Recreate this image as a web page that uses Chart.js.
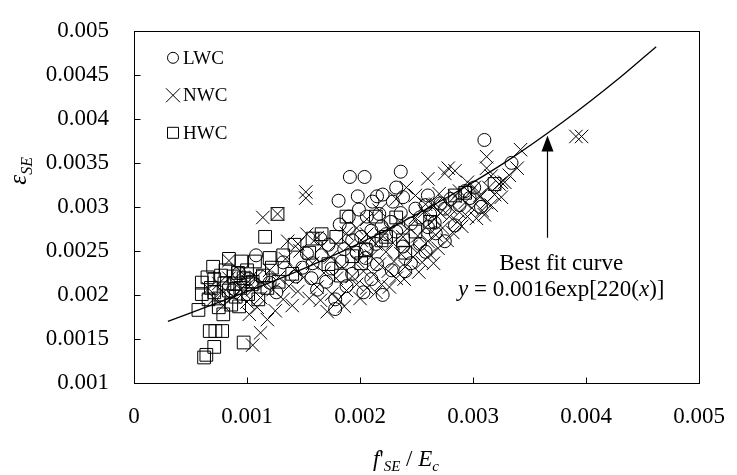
<!DOCTYPE html>
<html>
<head>
<meta charset="utf-8">
<title>Strain vs stress ratio</title>
<script src="https://cdn.jsdelivr.net/npm/chart.js@4.4.0/dist/chart.umd.min.js"></script>
<style>
  html, body { margin: 0; padding: 0; background: #fff; }
  #chart { display: block; }
</style>
</head>
<body>
<canvas id="chart" width="737" height="475"></canvas>
<script>
// Series names (legend order)
const seriesNames = ['LWC', 'NWC', 'HWC'];

// Tick labels
const xTicks = [0, 0.001, 0.002, 0.003, 0.004, 0.005];
const yTicks = [0.001, 0.0015, 0.002, 0.0025, 0.003, 0.0035, 0.004, 0.0045, 0.005];

// LWC points [f'SE/Ec, eSE]
const lwcData = [
  [0.00191, 0.00334], [0.00204, 0.00334], [0.00236, 0.00340], [0.00232, 0.00322], [0.00181, 0.00307],
  [0.00198, 0.00312], [0.00215, 0.00312], [0.00211, 0.00306], [0.00220, 0.00314], [0.00229, 0.00306],
  [0.00238, 0.00311], [0.00199, 0.00297], [0.00190, 0.00289], [0.00206, 0.00289], [0.00217, 0.00292],
  [0.00182, 0.00280], [0.00190, 0.00275], [0.00165, 0.00264], [0.00153, 0.00247], [0.00178, 0.00195],
  [0.00178, 0.00184], [0.00203, 0.00203], [0.00220, 0.00200], [0.00188, 0.00210], [0.00240, 0.00227],
  [0.00238, 0.00255], [0.00158, 0.00236], [0.00162, 0.00206], [0.00310, 0.00376], [0.00334, 0.00350],
  [0.00260, 0.00313], [0.00307, 0.00300], [0.00275, 0.00261], [0.00260, 0.00277], [0.00253, 0.00258],
  [0.00266, 0.00282], [0.00093, 0.00225], [0.00101, 0.00218], [0.00088, 0.00207], [0.00112, 0.00221],
  [0.00120, 0.00214], [0.00132, 0.00237], [0.00108, 0.00245], [0.00126, 0.00203], [0.00143, 0.00221],
  [0.00149, 0.00231], [0.00166, 0.00245], [0.00172, 0.00257], [0.00175, 0.00230], [0.00184, 0.00238],
  [0.00193, 0.00262], [0.00197, 0.00248], [0.00201, 0.00266], [0.00206, 0.00252], [0.00210, 0.00273],
  [0.00214, 0.00258], [0.00219, 0.00278], [0.00223, 0.00269], [0.00227, 0.00283], [0.00232, 0.00272],
  [0.00236, 0.00293], [0.00245, 0.00281], [0.00249, 0.00298], [0.00253, 0.00288], [0.00258, 0.00302],
  [0.00262, 0.00292], [0.00271, 0.00304], [0.00275, 0.00298], [0.00280, 0.00309], [0.00288, 0.00302],
  [0.00293, 0.00318], [0.00297, 0.00310], [0.00301, 0.00322], [0.00245, 0.00236], [0.00228, 0.00228],
  [0.00210, 0.00218], [0.00193, 0.00224], [0.00258, 0.00249], [0.00267, 0.00270], [0.00284, 0.00279],
  [0.00170, 0.00215], [0.00157, 0.00219], [0.00186, 0.00252], [0.00205, 0.00242], [0.00215, 0.00235]
];

// NWC points
const nwcData = [
  [0.00066, 0.00207], [0.00071, 0.00196], [0.00075, 0.00213], [0.00079, 0.00188], [0.00079, 0.00203],
  [0.00084, 0.00239], [0.00084, 0.00219], [0.00088, 0.00198], [0.00092, 0.00212], [0.00095, 0.00226],
  [0.00097, 0.00203], [0.00100, 0.00192], [0.00101, 0.00215], [0.00105, 0.00143], [0.00105, 0.00206],
  [0.00108, 0.00220], [0.00112, 0.00157], [0.00112, 0.00197], [0.00114, 0.00288], [0.00115, 0.00212],
  [0.00118, 0.00172], [0.00120, 0.00228], [0.00123, 0.00206], [0.00125, 0.00182], [0.00127, 0.00292],
  [0.00128, 0.00220], [0.00132, 0.00195], [0.00134, 0.00241], [0.00136, 0.00261], [0.00137, 0.00210],
  [0.00140, 0.00188], [0.00142, 0.00229], [0.00145, 0.00204], [0.00147, 0.00250], [0.00150, 0.00220],
  [0.00152, 0.00310], [0.00152, 0.00317], [0.00153, 0.00269], [0.00155, 0.00196], [0.00158, 0.00236],
  [0.00162, 0.00209], [0.00165, 0.00194], [0.00166, 0.00255], [0.00168, 0.00225], [0.00171, 0.00181],
  [0.00174, 0.00243], [0.00175, 0.00201], [0.00179, 0.00219], [0.00181, 0.00195], [0.00184, 0.00232],
  [0.00188, 0.00205], [0.00190, 0.00256], [0.00193, 0.00221], [0.00197, 0.00212], [0.00198, 0.00238],
  [0.00201, 0.00262], [0.00203, 0.00227], [0.00206, 0.00269], [0.00206, 0.00208], [0.00210, 0.00244],
  [0.00212, 0.00223], [0.00214, 0.00258], [0.00217, 0.00235], [0.00219, 0.00212], [0.00220, 0.00267],
  [0.00223, 0.00249], [0.00225, 0.00227], [0.00227, 0.00276], [0.00229, 0.00259], [0.00230, 0.00238],
  [0.00232, 0.00219], [0.00235, 0.00283], [0.00236, 0.00247], [0.00238, 0.00266], [0.00240, 0.00232],
  [0.00243, 0.00277], [0.00245, 0.00255], [0.00247, 0.00243], [0.00249, 0.00288], [0.00251, 0.00267],
  [0.00253, 0.00251], [0.00255, 0.00237], [0.00257, 0.00295], [0.00258, 0.00277], [0.00260, 0.00261],
  [0.00262, 0.00246], [0.00264, 0.00302], [0.00266, 0.00286], [0.00267, 0.00268], [0.00269, 0.00253],
  [0.00271, 0.00293], [0.00273, 0.00276], [0.00275, 0.00306], [0.00277, 0.00262], [0.00279, 0.00289],
  [0.00280, 0.00299], [0.00282, 0.00271], [0.00284, 0.00312], [0.00286, 0.00283], [0.00288, 0.00294],
  [0.00290, 0.00278], [0.00293, 0.00305], [0.00295, 0.00289], [0.00297, 0.00316], [0.00299, 0.00299],
  [0.00301, 0.00322], [0.00303, 0.00287], [0.00306, 0.00311], [0.00308, 0.00296], [0.00310, 0.00291],
  [0.00312, 0.00305], [0.00314, 0.00322], [0.00316, 0.00302], [0.00319, 0.00314], [0.00323, 0.00326],
  [0.00325, 0.00311], [0.00328, 0.00328], [0.00332, 0.00336], [0.00260, 0.00332], [0.00278, 0.00344],
  [0.00284, 0.00341], [0.00275, 0.00338], [0.00295, 0.00328], [0.00306, 0.00313], [0.00312, 0.00357],
  [0.00312, 0.00344], [0.00316, 0.00335], [0.00325, 0.00328], [0.00339, 0.00344], [0.00342, 0.00365],
  [0.00391, 0.00380], [0.00396, 0.00380], [0.00270, 0.00315], [0.00288, 0.00318], [0.00267, 0.00303],
  [0.00258, 0.00303], [0.00241, 0.00322], [0.00232, 0.00309], [0.00249, 0.00313], [0.00206, 0.00286],
  [0.00197, 0.00276], [0.00188, 0.00270], [0.00179, 0.00258], [0.00162, 0.00265], [0.00145, 0.00258],
  [0.00217, 0.00296], [0.00102, 0.00178], [0.00109, 0.00186], [0.00186, 0.00187], [0.00200, 0.00196],
  [0.00214, 0.00203], [0.00226, 0.00209], [0.00239, 0.00218], [0.00252, 0.00226], [0.00265, 0.00236]
];

// HWC points
const hwcData = [
  [0.00057, 0.00183], [0.00060, 0.00201], [0.00062, 0.00129], [0.00064, 0.00132], [0.00071, 0.00141],
  [0.00067, 0.00159], [0.00072, 0.00159], [0.00078, 0.00159], [0.00097, 0.00146], [0.00065, 0.00220],
  [0.00060, 0.00214], [0.00066, 0.00195], [0.00068, 0.00208], [0.00071, 0.00203], [0.00071, 0.00218],
  [0.00070, 0.00232], [0.00075, 0.00196], [0.00075, 0.00186], [0.00077, 0.00222], [0.00079, 0.00178],
  [0.00080, 0.00213], [0.00081, 0.00228], [0.00084, 0.00241], [0.00084, 0.00205], [0.00086, 0.00189],
  [0.00088, 0.00221], [0.00089, 0.00213], [0.00090, 0.00198], [0.00092, 0.00225], [0.00093, 0.00187],
  [0.00094, 0.00208], [0.00095, 0.00238], [0.00097, 0.00219], [0.00100, 0.00228], [0.00101, 0.00201],
  [0.00104, 0.00212], [0.00105, 0.00215], [0.00107, 0.00238], [0.00110, 0.00195], [0.00114, 0.00222],
  [0.00116, 0.00266], [0.00118, 0.00208], [0.00120, 0.00242], [0.00122, 0.00231], [0.00127, 0.00292],
  [0.00128, 0.00215], [0.00132, 0.00245], [0.00140, 0.00224], [0.00142, 0.00257], [0.00155, 0.00248],
  [0.00158, 0.00264], [0.00166, 0.00269], [0.00172, 0.00235], [0.00179, 0.00266], [0.00183, 0.00222],
  [0.00188, 0.00289], [0.00193, 0.00244], [0.00201, 0.00236], [0.00205, 0.00251], [0.00214, 0.00289],
  [0.00219, 0.00262], [0.00223, 0.00266], [0.00232, 0.00288], [0.00238, 0.00262], [0.00240, 0.00248],
  [0.00249, 0.00272], [0.00262, 0.00283], [0.00284, 0.00313], [0.00293, 0.00316], [0.00319, 0.00326]
];

// Best fit curve
const fitX = [0.0003, 0.0008, 0.0013, 0.0018, 0.0023, 0.0028, 0.0033, 0.0038, 0.0043, 0.00462];
const fitY = [0.00170, 0.00194, 0.00219, 0.00247, 0.00278, 0.00313, 0.00352, 0.00397, 0.00447, 0.00482];

const FONT = '"Liberation Serif", "Times New Roman", serif';
const markerStyles = ['circle', 'cross', 'square'];

function toPoints(list) {
    return list.map(p => ({ x: p[0], y: p[1] }));
}

function fmt(v) {
    return String(parseFloat(v.toFixed(5)));
}

// draws a hollow marker (used for the legend)
function drawMarker(ctx, style, x, y) {
    ctx.beginPath();
    if (style === 'circle') {
        ctx.arc(x, y, 5.5, 0, Math.PI * 2);
    } else if (style === 'cross') {
        ctx.moveTo(x - 7, y - 7); ctx.lineTo(x + 7, y + 7);
        ctx.moveTo(x + 7, y - 7); ctx.lineTo(x - 7, y + 7);
    } else {
        ctx.rect(x - 5.5, y - 5.5, 11, 11);
    }
    ctx.stroke();
}

// draws pieces of text, some italic or subscript
function drawRich(ctx, pieces, x, y, size, align) {
    const subSize = Math.round(size * 0.64);
    const fontOf = p => (p.it ? 'italic ' : '') + (p.sub ? subSize : size) + 'px ' + FONT;
    let total = 0;
    pieces.forEach(p => { ctx.font = fontOf(p); total += ctx.measureText(p.t).width; });
    let cx = align === 'center' ? x - total / 2 : x;
    ctx.textAlign = 'left';
    pieces.forEach(p => {
        ctx.font = fontOf(p);
        ctx.fillText(p.t, cx, p.sub ? y + size * 0.22 : y);
        cx += ctx.measureText(p.t).width;
    });
}

const framePlugin = {
    id: 'frame',
    afterDatasetsDraw(chart) {
        const { ctx, chartArea: a, scales } = chart;
        ctx.save();
        ctx.strokeStyle = '#000';
        ctx.lineWidth = 1;
        const l = Math.round(a.left) + 0.5, r = Math.round(a.right) + 0.5;
        const t = Math.round(a.top) + 0.5, b = Math.round(a.bottom) + 0.5;
        ctx.strokeRect(l, t, r - l, b - t);
        ctx.beginPath();
        yTicks.slice(1, -1).forEach(v => {
            const py = Math.round(scales.y.getPixelForValue(v)) + 0.5;
            ctx.moveTo(l, py); ctx.lineTo(l + 6, py);
        });
        xTicks.slice(1, -1).forEach(v => {
            const px = Math.round(scales.x.getPixelForValue(v)) + 0.5;
            ctx.moveTo(px, b); ctx.lineTo(px, b - 6);
        });
        ctx.stroke();
        ctx.restore();
    }
};

const legendPlugin = {
    id: 'insideLegend',
    afterDraw(chart) {
        const { ctx, chartArea: a } = chart;
        ctx.save();
        ctx.strokeStyle = '#000';
        ctx.fillStyle = '#000';
        ctx.lineWidth = 1;
        ctx.font = '19px ' + FONT;
        ctx.textBaseline = 'middle';
        ctx.textAlign = 'left';
        seriesNames.forEach((name, i) => {
            const x = a.left + 39;
            const y = a.top + 27 + i * 37.5;
            drawMarker(ctx, markerStyles[i], x, y);
            ctx.fillText(name, x + 10, y + 1);
        });
        ctx.restore();
    }
};

const textPlugin = {
    id: 'labels',
    afterDraw(chart) {
        const { ctx, chartArea: a, scales } = chart;
        const xs = scales.x, ys = scales.y;
        ctx.save();
        ctx.fillStyle = '#000';
        ctx.strokeStyle = '#000';
        ctx.textBaseline = 'alphabetic';

        // x axis title
        drawRich(ctx, [
            { t: 'f', it: true }, { t: "'" }, { t: 'SE', it: true, sub: true },
            { t: ' / ' }, { t: 'E', it: true }, { t: 'c', it: true, sub: true }
        ], 406, 466, 23, 'center');

        // y axis title
        ctx.save();
        ctx.translate(18, (a.top + a.bottom) / 2 - 36);
        ctx.rotate(-Math.PI / 2);
        drawRich(ctx, [{ t: '\u03b5', it: true }, { t: 'SE', it: true, sub: true }], 0, 8, 25, 'center');
        ctx.restore();

        // arrow pointing at the curve
        const ax = Math.round(xs.getPixelForValue(0.00365)) + 0.5;
        const tip = ys.getPixelForValue(0.00381);
        const base = ys.getPixelForValue(0.00265);
        ctx.lineWidth = 1.2;
        ctx.beginPath();
        ctx.moveTo(ax, base); ctx.lineTo(ax, tip + 12);
        ctx.stroke();
        ctx.beginPath();
        ctx.moveTo(ax, tip); ctx.lineTo(ax - 6, tip + 16); ctx.lineTo(ax + 6, tip + 16);
        ctx.closePath();
        ctx.fill();

        // curve label
        const cx = xs.getPixelForValue(0.00378);
        ctx.font = '23px ' + FONT;
        ctx.textAlign = 'center';
        ctx.fillText('Best fit curve', cx, ys.getPixelForValue(0.00228));
        drawRich(ctx, [
            { t: 'y', it: true }, { t: ' = 0.0016exp[220(' }, { t: 'x', it: true }, { t: ')]' }
        ], cx, ys.getPixelForValue(0.00199), 23, 'center');
        ctx.restore();
    }
};

Chart.defaults.color = '#000';
Chart.defaults.font.family = FONT;

const ctx = document.getElementById('chart').getContext('2d');
new Chart(ctx, {
    type: 'scatter',
    data: {
        datasets: [
            {
                label: seriesNames[0],
                data: toPoints(lwcData),
                pointStyle: 'circle',
                pointRadius: 6.5,
                borderWidth: 1,
                borderColor: '#000',
                backgroundColor: 'rgba(0,0,0,0)'
            },
            {
                label: seriesNames[1],
                data: toPoints(nwcData),
                pointStyle: 'crossRot',
                pointRadius: 9.5,
                borderWidth: 1,
                borderColor: '#000',
                backgroundColor: 'rgba(0,0,0,0)'
            },
            {
                label: seriesNames[2],
                data: toPoints(hwcData),
                pointStyle: 'rect',
                pointRadius: 9,
                borderWidth: 1,
                borderColor: '#000',
                backgroundColor: 'rgba(0,0,0,0)'
            },
            {
                type: 'line',
                label: 'Best fit curve',
                data: fitX.map((x, i) => ({ x: x, y: fitY[i] })),
                borderColor: '#000',
                borderWidth: 1.3,
                pointRadius: 0,
                tension: 0.4,
                cubicInterpolationMode: 'monotone',
                fill: false
            }
        ]
    },
    options: {
        responsive: false,
        animation: false,
        events: [],
        layout: { padding: { top: 21, right: 27, left: 0, bottom: 0 } },
        plugins: {
            legend: { display: false },
            tooltip: { enabled: false }
        },
        scales: {
            x: {
                type: 'linear',
                min: 0,
                max: 0.005,
                grid: { display: false },
                border: { display: false },
                afterBuildTicks: scale => { scale.ticks = xTicks.map(v => ({ value: v })); },
                afterFit: scale => { scale.height = 92; },
                ticks: {
                    padding: 12,
                    maxRotation: 0,
                    font: { size: 23, family: FONT },
                    callback: v => fmt(v)
                }
            },
            y: {
                type: 'linear',
                min: 0.001,
                max: 0.005,
                grid: { display: false },
                border: { display: false },
                afterBuildTicks: scale => { scale.ticks = yTicks.map(v => ({ value: v })); },
                afterFit: scale => { scale.width = 134; },
                ticks: {
                    padding: 17,
                    font: { size: 23, family: FONT },
                    callback: v => fmt(v)
                }
            }
        }
    },
    plugins: [framePlugin, legendPlugin, textPlugin]
});
</script>
</body>
</html>
